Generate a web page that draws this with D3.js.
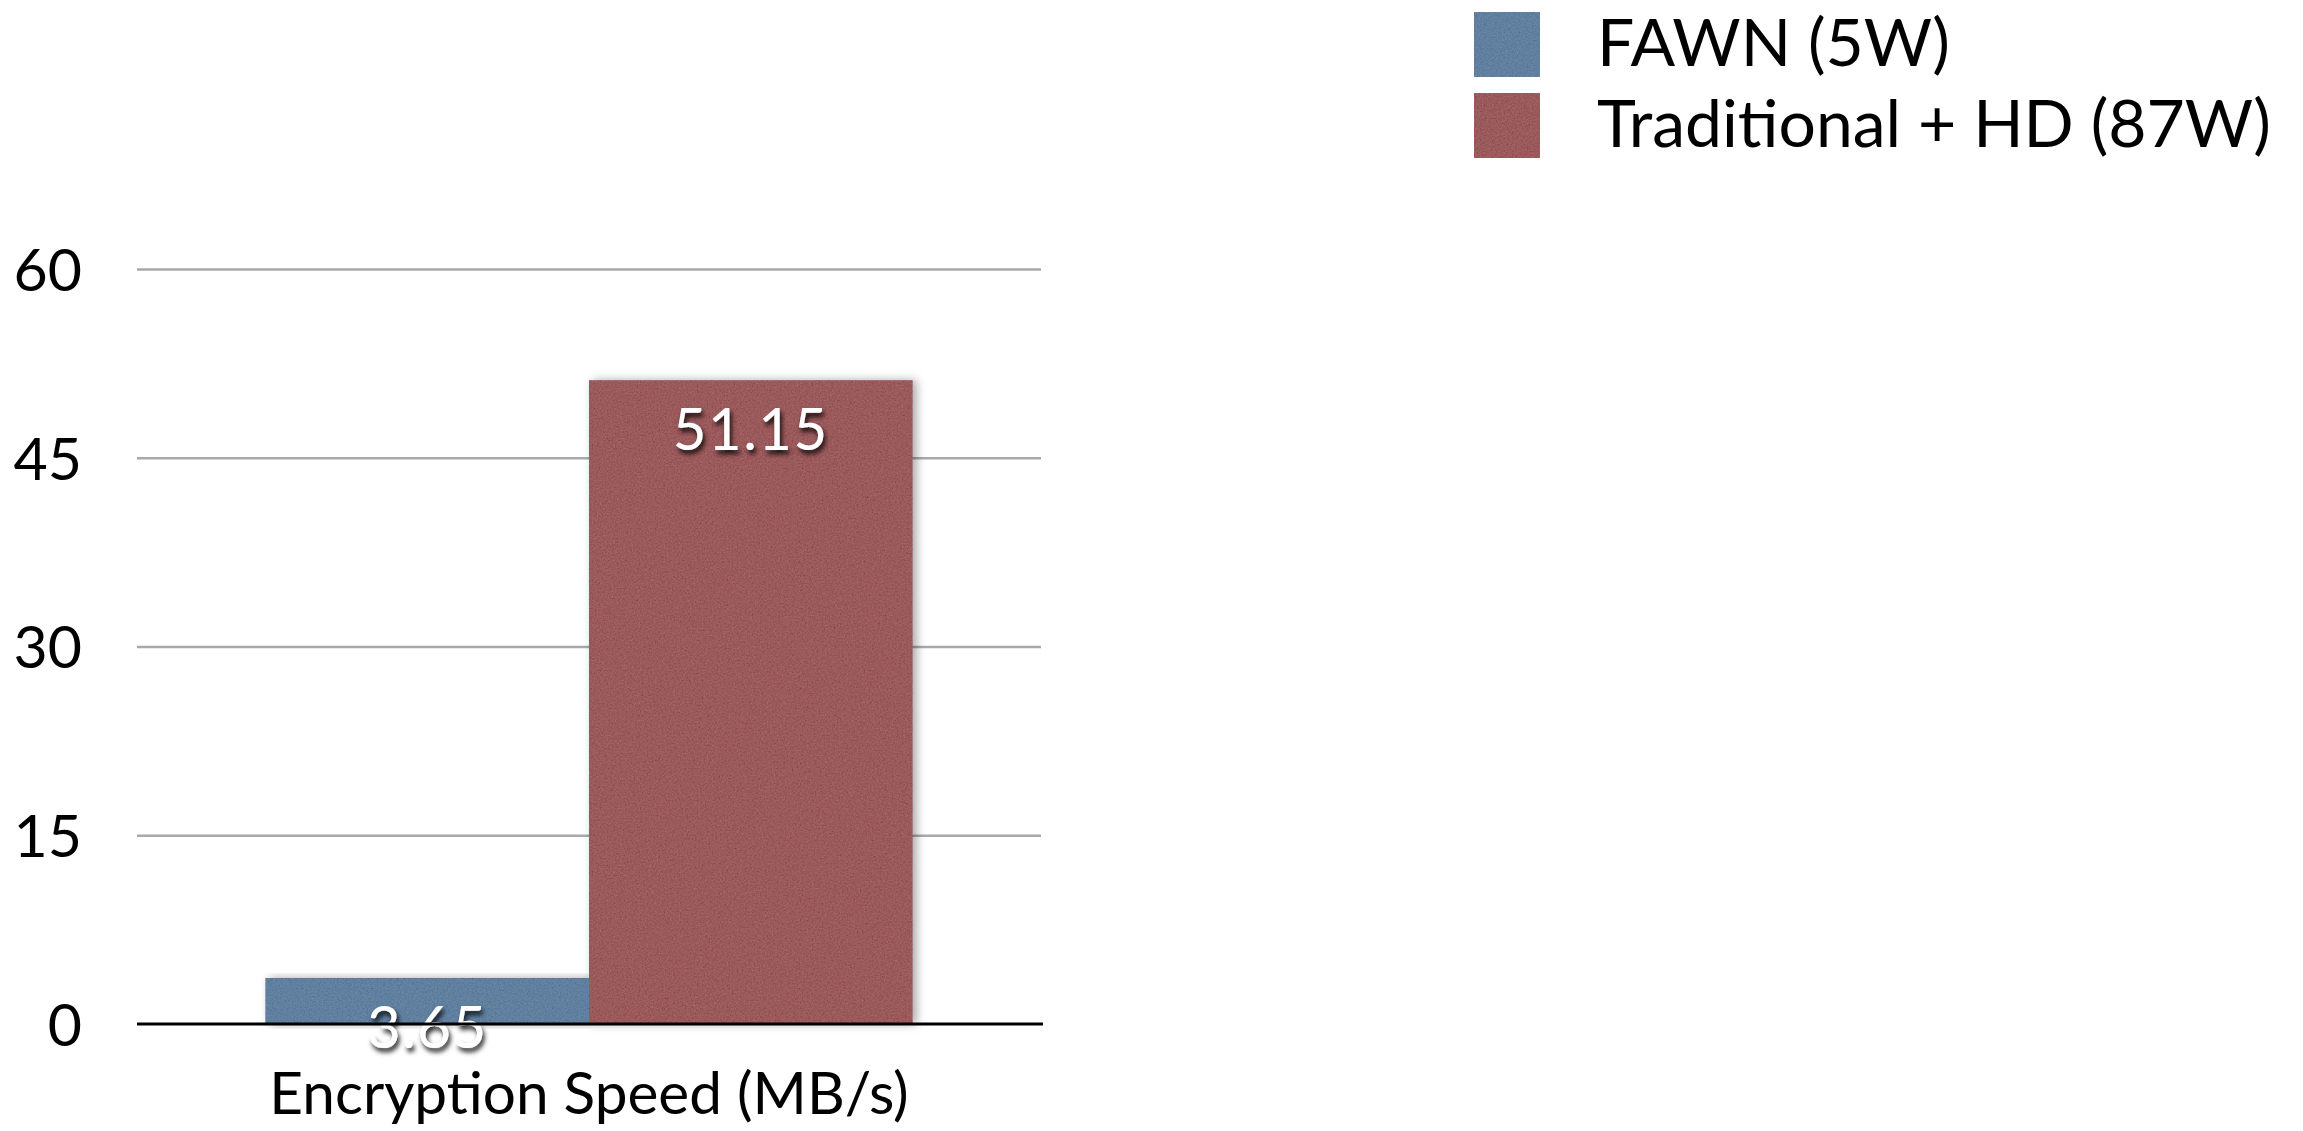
<!DOCTYPE html>
<html>
<head>
<meta charset="utf-8">
<script src="https://cdn.jsdelivr.net/npm/d3@7"></script>
<style>
  html, body { margin: 0; padding: 0; background: #fff; }
  svg { display: block; }
  text { font-family: Lato, "Open Sans", sans-serif; }
</style>
</head>
<body>
<svg id="chart" width="2303" height="1131"></svg>
<script>
// Encryption throughput, one category, two systems
const categories = ["Encryption Speed (MB/s)"];
const seriesNames = ["FAWN (5W)", "Traditional + HD (87W)"];
const seriesColors = ["#61809f", "#9b5a5c"];
const fawnValues = [3.65];
const traditionalValues = [51.15];
const valueLabels = [["3.65"], ["51.15"]];
const yTicks = [0, 15, 30, 45, 60];
const yTickLabels = ["0", "15", "30", "45", "60"];

const seriesValues = [fawnValues, traditionalValues];

const svg = d3.select("#chart");
const plot = { left: 137, right: 1041, top: 269, bottom: 1024 };

// Filters: paper grain for fills, soft shadow for bars, dark shadow for value labels
const defs = svg.append("defs");
const grain = defs.append("filter").attr("id", "grain")
  .attr("x", 0).attr("y", 0).attr("width", "100%").attr("height", "100%");
grain.append("feTurbulence").attr("type", "fractalNoise")
  .attr("baseFrequency", 0.6).attr("numOctaves", 3).attr("seed", 7).attr("result", "noise");
grain.append("feColorMatrix").attr("in", "noise").attr("type", "matrix")
  .attr("values", "0.33 0.33 0.33 0 0  0.33 0.33 0.33 0 0  0.33 0.33 0.33 0 0  0 0 0 0 1")
  .attr("result", "gray");
grain.append("feComposite").attr("in", "SourceGraphic").attr("in2", "gray")
  .attr("operator", "arithmetic").attr("k1", 0).attr("k2", 1).attr("k3", 0.2).attr("k4", -0.1)
  .attr("result", "mixed");
grain.append("feComposite").attr("in", "mixed").attr("in2", "SourceGraphic").attr("operator", "in");

const barShadow = defs.append("filter").attr("id", "barShadow")
  .attr("x", "-10%").attr("y", "-10%").attr("width", "125%").attr("height", "120%");
barShadow.append("feDropShadow").attr("dx", 4).attr("dy", 0).attr("stdDeviation", 5)
  .attr("flood-color", "#000").attr("flood-opacity", 0.35);

const textShadow = defs.append("filter").attr("id", "textShadow")
  .attr("x", "-20%").attr("y", "-30%").attr("width", "140%").attr("height", "170%");
textShadow.append("feDropShadow").attr("dx", 2).attr("dy", 4).attr("stdDeviation", 2.5)
  .attr("flood-color", "#000").attr("flood-opacity", 0.9);

// Scales
const y = d3.scaleLinear().domain([0, 60]).range([plot.bottom, plot.top]);
const x0 = d3.scaleBand().domain(categories).range([plot.left, plot.right])
  .paddingInner(0.1657).paddingOuter(0.1657);
const x1 = d3.scaleBand().domain(seriesNames).range([0, x0.bandwidth()]).padding(0);

// Gridlines and y tick labels
const yAxis = d3.axisLeft(y)
  .tickValues(yTicks)
  .tickFormat((d, i) => yTickLabels[i])
  .tickSize(-(plot.right - plot.left))
  .tickPadding(55);
const gy = svg.append("g").attr("transform", `translate(${plot.left},0)`).call(yAxis);
gy.select(".domain").remove();
gy.selectAll(".tick line").attr("stroke", "#a9a9a9").attr("stroke-width", 2.5)
  .filter(d => d === 0).remove();
gy.selectAll(".tick text").attr("fill", "#000").attr("font-size", 59)
  .attr("dy", "0.36em");

// Bars
const groups = svg.append("g").selectAll("g")
  .data(categories).join("g")
  .attr("transform", d => `translate(${x0(d)},0)`);

groups.each(function(cat, ci) {
  const g = d3.select(this);
  seriesNames.forEach((s, si) => {
    const v = seriesValues[si][ci];
    g.append("rect")
      .attr("x", x1(s)).attr("y", y(v))
      .attr("width", x1.bandwidth()).attr("height", y(0) - y(v))
      .attr("fill", seriesColors[si])
      .attr("filter", "url(#barShadow)");
  });
});
// Grain overlay drawn over the bars (kept separate so the shadow stays smooth)
groups.each(function(cat, ci) {
  const g = d3.select(this);
  seriesNames.forEach((s, si) => {
    const v = seriesValues[si][ci];
    g.append("rect")
      .attr("x", x1(s)).attr("y", y(v))
      .attr("width", x1.bandwidth()).attr("height", y(0) - y(v))
      .attr("fill", seriesColors[si])
      .attr("filter", "url(#grain)");
  });
});

// Baseline
svg.append("line")
  .attr("x1", plot.left).attr("x2", plot.right + 2)
  .attr("y1", y(0)).attr("y2", y(0))
  .attr("stroke", "#000").attr("stroke-width", 3);

// Value labels inside the bar tops
groups.each(function(cat, ci) {
  const g = d3.select(this);
  seriesNames.forEach((s, si) => {
    const v = seriesValues[si][ci];
    g.append("text")
      .attr("x", x1(s) + x1.bandwidth() / 2)
      .attr("y", y(v) + 70)
      .attr("text-anchor", "middle")
      .attr("font-size", 58)
      .attr("letter-spacing", 1.5)
      .attr("fill", "#fff")
      .attr("filter", "url(#textShadow)")
      .text(valueLabels[si][ci]);
  });
});

// Category label
svg.append("g").selectAll("text")
  .data(categories).join("text")
  .attr("x", d => x0(d) + x0.bandwidth() / 2)
  .attr("y", 1114)
  .attr("text-anchor", "middle")
  .attr("font-size", 58.5)
  .attr("fill", "#000")
  .text(d => d);

// Legend
const legend = svg.append("g").attr("transform", "translate(1474,12)");
const items = legend.selectAll("g").data(seriesNames).join("g")
  .attr("transform", (d, i) => `translate(0,${i * 81})`);
items.append("rect")
  .attr("width", 66).attr("height", 65)
  .attr("fill", (d, i) => seriesColors[i])
  .attr("filter", "url(#grain)");
items.append("text")
  .attr("x", 123).attr("y", 30).attr("dy", "0.36em")
  .attr("font-size", 66).attr("fill", "#000")
  .text(d => d);
</script>
</body>
</html>
